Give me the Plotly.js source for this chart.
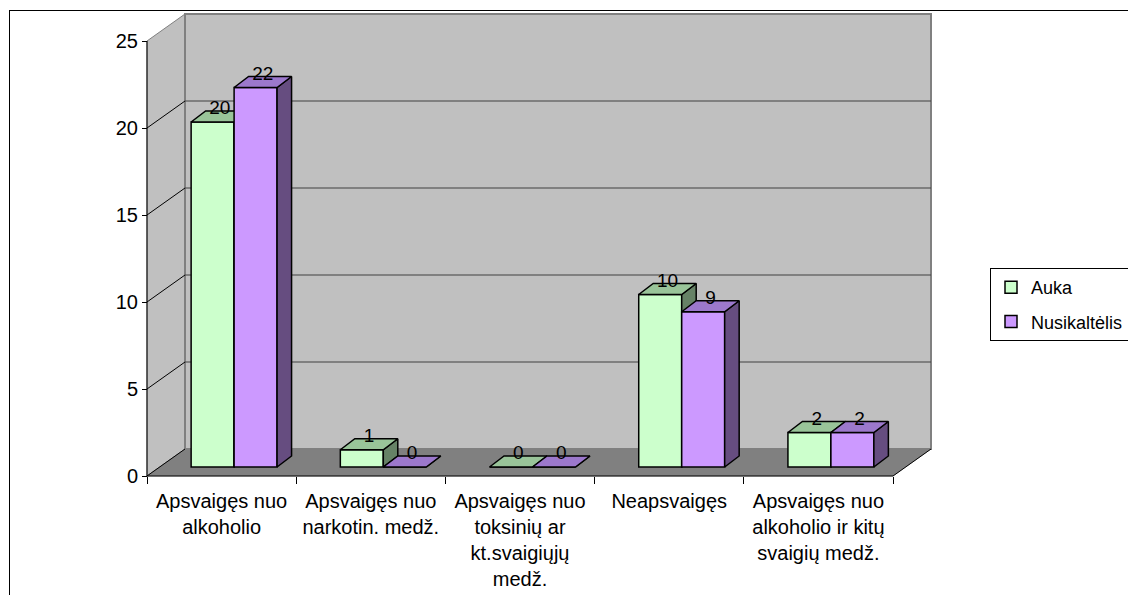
<!DOCTYPE html>
<html><head><meta charset="utf-8">
<script src="https://cdn.plot.ly/plotly-3.0.1.min.js"></script>
<style>
html,body{margin:0;padding:0;background:#fff;overflow:hidden}
#chart{width:1128px;height:595px;position:absolute;left:0;top:0}
#frame{position:absolute;left:9px;top:10px;width:1300px;height:800px;border-left:1px solid #000;border-top:1px solid #000;pointer-events:none}
</style></head><body>
<div id="chart"></div><div id="frame"></div>
<script>
// ---- data ----
const categories = [
  "Apsvaigęs nuo<br>alkoholio",
  "Apsvaigęs nuo<br>narkotin. medž.",
  "Apsvaigęs nuo<br>toksinių ar<br>kt.svaigiųjų<br>medž.",
  "Neapsvaigęs",
  "Apsvaigęs nuo<br>alkoholio ir kitų<br>svaigių medž."
];
const seriesNames = ["Auka", "Nusikaltėlis"];
const auka = [20, 1, 0, 10, 2];
const nusikaltelis = [22, 0, 0, 9, 2];
const yTicks = [0, 5, 10, 15, 20, 25];

// ---- geometry (pixels of the 3D projection) ----
const PL = 140, PR = 940, PT = 8, PB = 482;   // plot area
const FX0 = 147, CATPX = 149.2;               // front plane x origin, px per category
const FY0 = 476, FSC = 17.4;                  // front plane y origin, px per unit
const WDX = 38, WDY = 27;                     // wall depth
const BY0 = 467, BSC = 17.25;                 // bar plane origin and scale
const BDX = 14.5, BDY = 11;                   // bar depth
const SHPX = 12.5;                            // bar plane x shift
const BAR_W = 0.288;                          // bar width (category units)

const nCat = categories.length;
const yMax = yTicks[yTicks.length - 1];
const rx = [(PL - FX0) / CATPX, (PR - FX0) / CATPX];
const ry = [(FY0 - PB) / FSC, (FY0 - PT) / FSC];
const ry2 = [(BY0 - PB) / BSC, (BY0 - PT) / BSC];
const DX = WDX / CATPX, DY = WDY / FSC;
const ddx = BDX / CATPX, ddy = BDY / BSC;
const SH = SHPX / CATPX;

const FONT = "Liberation Sans, Arial, sans-serif";
const colors = [
  {front: "#CCFFCC", top: "#99C499", side: "#668266"},
  {front: "#CC99FF", top: "#9C78CC", side: "#664D80"}
];

const traces = [];
const poly = (xs, ys, fill, line, lw, ax) => ({
  type: "scatter", mode: "lines", x: xs, y: ys, fill: "toself", fillcolor: fill,
  line: {color: line, width: lw}, hoverinfo: "skip", showlegend: false,
  xaxis: ax[0], yaxis: ax[1]
});
const lines = (xs, ys, color, lw, ax) => ({
  type: "scatter", mode: "lines", x: xs, y: ys, line: {color: color, width: lw},
  hoverinfo: "skip", showlegend: false, connectgaps: false, xaxis: ax[0], yaxis: ax[1]
});
const A1 = ["x", "y"];

// walls and floor
traces.push(poly([0, 0, DX, DX, 0], [0, yMax, yMax + DY, DY, 0], "#C0C0C0", "#808080", 1, A1));
traces.push(poly([DX, nCat + DX, nCat + DX, DX, DX], [DY, DY, yMax + DY, yMax + DY, DY], "#C0C0C0", "#808080", 2, A1));
traces.push(poly([0, nCat, nCat + DX, DX, 0], [0, 0, DY, DY, 0], "#808080", "#808080", 0.5, A1));
// gridlines on the back wall
const gx = [], gy = [], dxs = [], dys = [];
yTicks.forEach(v => {
  if (v > 0 && v < yMax) { gx.push(DX, nCat + DX, null); gy.push(v + DY, v + DY, null); }
  if (v < yMax) { dxs.push(0, DX, null); dys.push(v, v + DY, null); }
});
dxs.push(nCat, nCat + DX); dys.push(0, DY);
traces.push(lines(gx, gy, "#404040", 1, A1));
traces.push(lines(dxs, dys, "#000000", 1, A1));
// axis lines on the front plane
traces.push(lines([0, 0, null, 0, nCat], [0, yMax, null, 0, 0], "#000000", 1, A1));

// bars
[auka, nusikaltelis].forEach((vals, s) => {
  const ax = s === 0 ? ["x2", "y2"] : ["x3", "y3"];
  const c = colors[s];
  const off = (s === 0 ? -BAR_W : 0) + SH;
  traces.push({
    type: "bar", name: seriesNames[s], x: vals.map((v, i) => i + 0.5), y: vals,
    width: BAR_W, offset: off, marker: {color: c.front, line: {color: "#000", width: 1.5}},
    xaxis: ax[0], yaxis: ax[1], legendgroup: "g" + s, hoverinfo: "skip"
  });
  vals.forEach((v, i) => {
    const x0 = i + 0.5 + off, x1 = x0 + BAR_W;
    traces.push(poly([x1, x1, x1 + ddx, x1 + ddx, x1], [0, v, v + ddy, ddy, 0], c.side, "#000", 1.5, ax));
    traces.push(poly([x0, x1, x1 + ddx, x0 + ddx, x0], [v, v, v + ddy, v + ddy, v], c.top, "#000", 1.5, ax));
  });
  traces.push({
    type: "scatter", mode: "text", x: vals.map((v, i) => i + 0.5 + off + BAR_W / 2 + ddx / 2),
    y: vals.map(v => v + ddy + 1.5 / BSC), text: vals.map(String), textposition: "middle center",
    textfont: {family: FONT, size: 19, color: "#000"}, cliponaxis: false,
    hoverinfo: "skip", showlegend: false, xaxis: ax[0], yaxis: ax[1]
  });
});

const posX = (0 - ry[0]) / (ry[1] - ry[0]);
const posY = (0 - rx[0]) / (rx[1] - rx[0]);
const hidden = {visible: false, fixedrange: true};
const layout = {
  width: 1128, height: 595,
  margin: {l: PL, r: 1128 - PR, t: PT, b: 595 - PB, autoexpand: false},
  paper_bgcolor: "rgba(0,0,0,0)", plot_bgcolor: "rgba(0,0,0,0)",
  font: {family: FONT, color: "#000", size: 20},
  barmode: "overlay",
  showlegend: true,
  legend: {
    xref: "container", yref: "container", x: 990 / 1128, y: 1 - 268 / 595,
    xanchor: "left", yanchor: "top", bgcolor: "#fff", bordercolor: "#000", borderwidth: 1,
    font: {family: FONT, size: 18, color: "#000"}, tracegroupgap: 8, itemclick: false, itemdoubleclick: false
  },
  xaxis: {range: rx, anchor: "free", position: posX, tickmode: "array",
    tickvals: categories.map((c, i) => i).concat([nCat]), showticklabels: false,
    ticks: "outside", ticklen: 7, tickwidth: 1, tickcolor: "#000",
    showgrid: false, zeroline: false, showline: false, fixedrange: true},
  yaxis: {range: ry, anchor: "free", position: posY, tickmode: "array", tickvals: yTicks,
    ticks: "outside", ticklen: 5, tickwidth: 1, tickcolor: "#000",
    tickfont: {family: FONT, size: 20, color: "#000"},
    showgrid: false, zeroline: false, showline: false, fixedrange: true},
  xaxis2: {overlaying: "x", range: rx, anchor: "free", position: posX, tickmode: "array",
    tickvals: categories.map((c, i) => i + 0.5), ticktext: categories, ticks: "",
    tickfont: {family: FONT, size: 20, color: "#000"}, ticklabelstandoff: 11,
    showgrid: false, zeroline: false, showline: false, fixedrange: true},
  yaxis2: Object.assign({overlaying: "y", range: ry2, anchor: "x2"}, hidden),
  xaxis3: Object.assign({overlaying: "x", range: rx, anchor: "y3"}, hidden),
  yaxis3: Object.assign({overlaying: "y", range: ry2, anchor: "x3"}, hidden)
};
Plotly.newPlot("chart", traces, layout, {displayModeBar: false, staticPlot: true});
</script></body></html>
